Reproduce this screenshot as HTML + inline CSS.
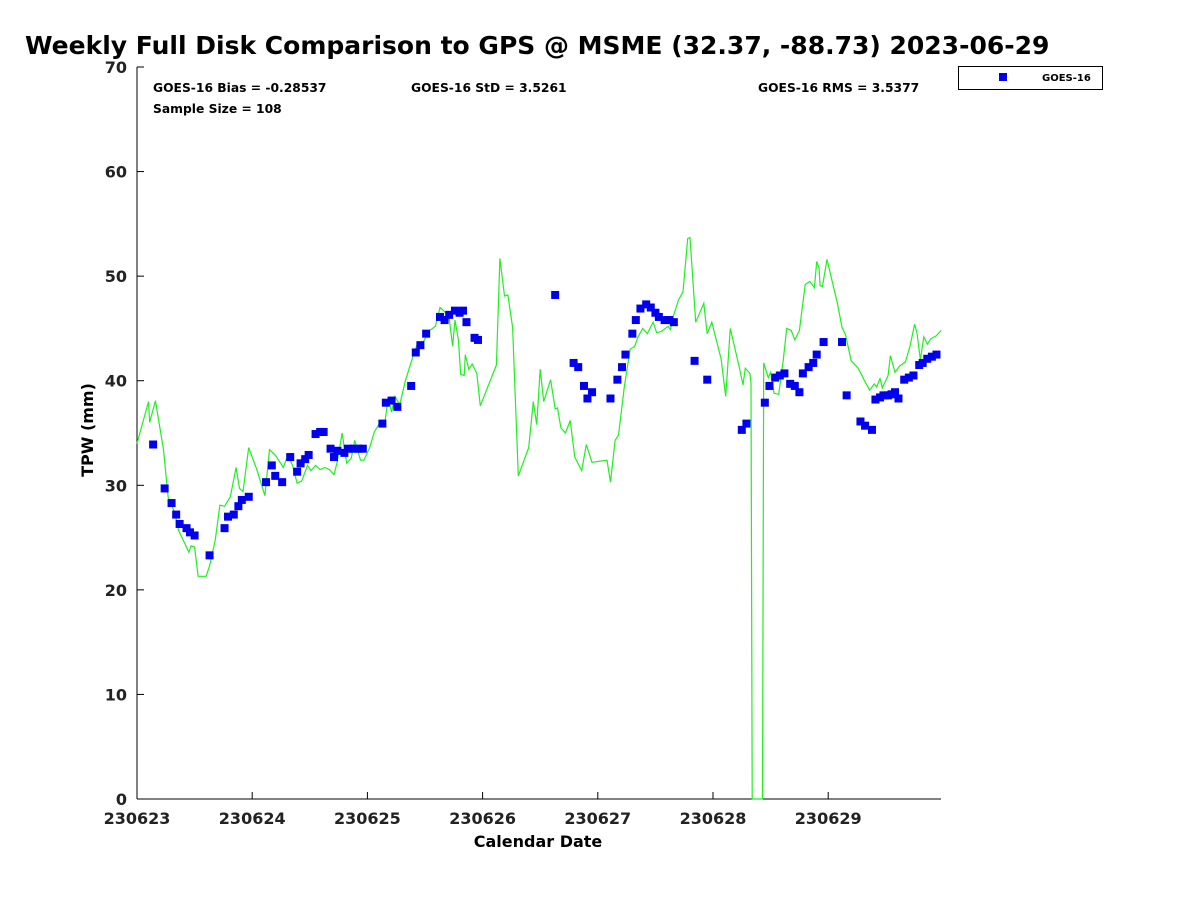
<!DOCTYPE html>
<html><head><meta charset="utf-8"><style>
body{margin:0;background:#fff;width:1200px;height:900px;overflow:hidden;font-family:"Liberation Sans","DejaVu Sans",sans-serif}
svg text{font-family:"DejaVu Sans","Liberation Sans",sans-serif;font-weight:bold}
</style></head><body>
<svg id="chart" width="1200" height="900" xmlns="http://www.w3.org/2000/svg">
<text x="25" y="54" font-size="25" fill="#000">Weekly Full Disk Comparison to GPS @ MSME (32.37, -88.73) 2023-06-29</text>
<text x="153" y="92" font-size="12.3">GOES-16 Bias = -0.28537</text>
<text x="153" y="113" font-size="12.3">Sample Size = 108</text>
<text x="411" y="92" font-size="12.3">GOES-16 StD = 3.5261</text>
<text x="758" y="92" font-size="12.3">GOES-16 RMS = 3.5377</text>
<g>
<rect x="958.5" y="66.5" width="144" height="23" fill="#fff" stroke="#000" stroke-width="1"/>
<rect x="999" y="73" width="8" height="8" fill="#0000ee"/>
<text x="1042" y="81" font-size="10">GOES-16</text>
</g>
<text x="538" y="847" font-size="16" text-anchor="middle">Calendar Date</text>
<text transform="translate(93,430) rotate(-90)" font-size="16" text-anchor="middle">TPW (mm)</text>
<g id="axes"></g>
<g id="marks"></g>
</svg>
<script>
const xTickLabels=["230623","230624","230625","230626","230627","230628","230629"];
const yTickValues=[0,10,20,30,40,50,60,70];
const gpsDays=[0,0.10,0.11,0.16,0.23,0.27,0.33,0.36,0.43,0.45,0.47,0.50,0.53,0.60,0.63,0.68,0.72,0.76,0.81,0.83,0.86,0.89,0.92,0.97,1.04,1.11,1.15,1.20,1.23,1.27,1.31,1.35,1.39,1.43,1.48,1.51,1.55,1.59,1.63,1.67,1.71,1.74,1.78,1.82,1.86,1.89,1.94,1.97,2.02,2.06,2.12,2.15,2.18,2.21,2.24,2.28,2.33,2.38,2.43,2.48,2.54,2.59,2.63,2.67,2.71,2.74,2.76,2.79,2.81,2.84,2.85,2.88,2.91,2.95,2.98,3.12,3.15,3.19,3.22,3.26,3.31,3.40,3.44,3.47,3.50,3.53,3.59,3.63,3.65,3.68,3.72,3.76,3.80,3.86,3.90,3.95,4.08,4.11,4.15,4.18,4.23,4.28,4.32,4.35,4.39,4.43,4.48,4.51,4.55,4.61,4.63,4.66,4.70,4.74,4.78,4.80,4.85,4.92,4.95,4.99,5.07,5.11,5.15,5.23,5.26,5.28,5.32,5.33,5.34,5.43,5.44,5.48,5.50,5.53,5.57,5.61,5.64,5.68,5.71,5.75,5.80,5.84,5.88,5.90,5.92,5.93,5.95,5.99,6.08,6.12,6.15,6.20,6.26,6.32,6.36,6.40,6.42,6.45,6.46,6.47,6.52,6.54,6.58,6.62,6.67,6.71,6.75,6.77,6.80,6.83,6.86,6.89,6.94,6.98];
const gpsValues=[34.0,38.0,36.0,38.1,33.4,28.9,27.3,25.7,24.1,23.6,24.2,24.1,21.3,21.3,22.3,24.8,28.1,28.0,28.9,30.0,31.7,29.7,29.4,33.6,31.5,29.0,33.4,32.9,32.4,31.7,32.9,31.9,30.2,30.4,31.9,31.4,31.9,31.5,31.7,31.5,31.0,32.3,35.0,32.1,32.6,34.3,32.4,32.4,33.6,35.1,36.2,35.8,38.4,37.0,38.5,37.7,40.0,41.8,43.4,43.6,44.8,45.2,47.0,46.6,46.0,43.3,45.8,43.9,40.6,40.5,42.5,41.1,41.6,40.7,37.6,41.5,51.7,48.1,48.2,45.1,30.9,33.6,38.0,35.8,41.1,38.0,40.1,37.3,37.4,35.5,35.0,36.2,32.7,31.4,33.9,32.2,32.4,30.3,34.3,34.8,39.4,43.0,43.3,44.2,45.0,44.5,45.6,44.6,44.7,45.2,44.9,46.3,47.7,48.5,53.6,53.7,45.6,47.4,44.5,45.6,42.1,38.5,45.0,41.2,39.6,41.2,40.7,39.8,0,0,41.7,40.3,40.8,38.8,38.7,42.0,45.0,44.8,43.9,44.8,49.2,49.5,48.9,51.4,50.8,49.1,49.0,51.6,47.4,45.1,44.4,41.9,41.2,39.9,39.1,39.7,39.4,40.2,39.8,39.3,40.5,42.4,40.8,41.4,41.8,43.3,45.4,44.6,42.0,44.2,43.5,44.0,44.3,44.8];
const goesDays=[0.14,0.24,0.30,0.34,0.37,0.43,0.46,0.50,0.63,0.76,0.79,0.84,0.88,0.91,0.97,1.12,1.17,1.20,1.26,1.33,1.39,1.42,1.46,1.49,1.55,1.59,1.62,1.68,1.71,1.74,1.80,1.83,1.88,1.92,1.96,2.13,2.16,2.21,2.26,2.38,2.42,2.46,2.51,2.63,2.67,2.71,2.76,2.80,2.83,2.86,2.93,2.96,3.63,3.79,3.83,3.88,3.91,3.95,4.11,4.17,4.21,4.24,4.30,4.33,4.37,4.42,4.46,4.50,4.53,4.58,4.62,4.66,4.84,4.95,5.25,5.29,5.45,5.49,5.54,5.58,5.62,5.67,5.71,5.75,5.78,5.83,5.87,5.90,5.96,6.12,6.16,6.28,6.32,6.38,6.41,6.45,6.48,6.52,6.55,6.58,6.61,6.66,6.70,6.74,6.79,6.82,6.86,6.90,6.94];
const goesValues=[33.9,29.7,28.3,27.2,26.3,25.9,25.5,25.2,23.3,25.9,27.0,27.2,28.0,28.6,28.9,30.3,31.9,30.9,30.3,32.7,31.3,32.1,32.5,32.9,34.9,35.1,35.1,33.5,32.7,33.3,33.1,33.5,33.5,33.5,33.5,35.9,37.9,38.1,37.5,39.5,42.7,43.4,44.5,46.1,45.8,46.3,46.7,46.5,46.7,45.6,44.1,43.9,48.2,41.7,41.3,39.5,38.3,38.9,38.3,40.1,41.3,42.5,44.5,45.8,46.9,47.3,47.0,46.5,46.1,45.8,45.8,45.6,41.9,40.1,35.3,35.9,37.9,39.5,40.3,40.5,40.7,39.7,39.5,38.9,40.7,41.3,41.7,42.5,43.7,43.7,38.6,36.1,35.7,35.3,38.2,38.4,38.6,38.6,38.7,38.9,38.3,40.1,40.3,40.5,41.5,41.7,42.1,42.3,42.5];

const NS='http://www.w3.org/2000/svg';
const L=137,R=941,T=67,B=799,dayPx=115.2;
const xs=d=>L+d*dayPx;
const ys=v=>B-(v/70)*(B-T);
function mk(tag,attrs,parent){const e=document.createElementNS(NS,tag);for(const k in attrs)e.setAttribute(k,attrs[k]);parent.appendChild(e);return e;}
const axes=document.getElementById('axes'),marks=document.getElementById('marks');
const la=mk('line',{x1:L,y1:T,x2:L,y2:B,stroke:'#000','stroke-width':1},axes);


const ba=mk('line',{x1:L,y1:B,x2:R,y2:B,stroke:'#000','stroke-width':1},axes);


yTickValues.forEach(v=>{
  const y=ys(v);
  const t=mk('line',{x1:L,y1:y,x2:L+7,y2:y,stroke:'#000'},axes);
  
  
  const tx=mk('text',{x:127,y:y+6,'font-size':16,'text-anchor':'end',fill:'#222'},axes);
  tx.textContent=v;
  
  
});
xTickLabels.forEach((lab,i)=>{
  const x=xs(i);
  const t=mk('line',{x1:x,y1:B,x2:x,y2:B-7,stroke:'#000'},axes);
  
  
  const tx=mk('text',{x:x,y:824,'font-size':16,'text-anchor':'middle',fill:'#222'},axes);
  tx.textContent=lab;
  
  
});
const pts=gpsDays.map((d,i)=>xs(d).toFixed(1)+','+ys(gpsValues[i]).toFixed(1)).join(' ');
const pl=mk('polyline',{points:pts,fill:'none',stroke:'#22ee22','stroke-width':1.2},marks);


goesDays.forEach((d,i)=>{
  const r=mk('rect',{x:xs(d)-4,y:ys(goesValues[i])-4,width:8,height:8,fill:'#0000ee'},marks);
  
  
});
</script>
</body></html>
